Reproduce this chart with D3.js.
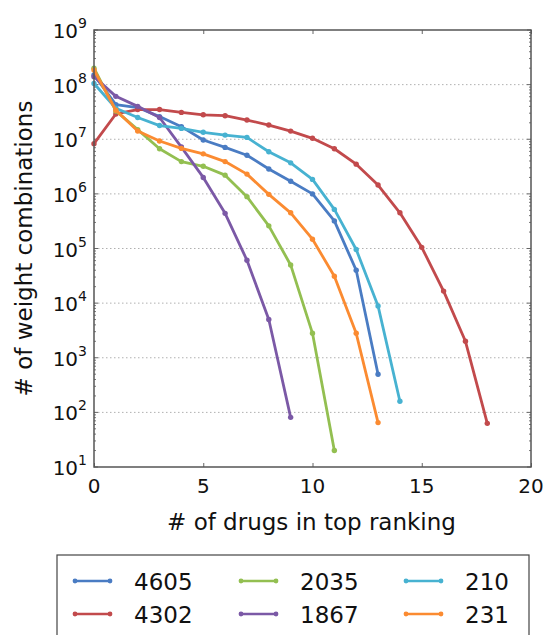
<!DOCTYPE html>
<html>
<head>
<meta charset="utf-8">
<script src="https://cdn.jsdelivr.net/npm/d3@7"></script>
<style>
  html, body { margin: 0; padding: 0; background: #fff; }
  svg { display: block; font-family: "DejaVu Sans", Verdana, sans-serif; }
</style>
</head>
<body>
<svg id="chart" width="545" height="635"></svg>
<script>
// Number of weight combinations per count of drugs in the top ranking
const drugCounts = d3.range(0, 19);
const seriesNames = ["4605", "4302", "2035", "1867", "210", "231"];
const seriesColors = ["#4a7cc3", "#c24a4c", "#93bf51", "#7b59a6", "#47b2d1", "#fb8b31"];

const s4605 = [1.5e8, 4.3e7, 3.8e7, 2.6e7, 1.7e7, 9.7e6, 7.1e6, 5.1e6, 2.85e6, 1.7e6, 1.0e6, 3.2e5, 4.0e4, 500];
const s4302 = [8.3e6, 2.9e7, 3.5e7, 3.5e7, 3.1e7, 2.8e7, 2.7e7, 2.25e7, 1.82e7, 1.41e7, 1.04e7, 6.7e6, 3.5e6, 1.45e6, 4.5e5, 1.05e5, 1.66e4, 2.0e3, 63];
const s2035 = [2.0e8, 3.3e7, 1.5e7, 6.7e6, 3.9e6, 3.2e6, 2.2e6, 8.9e5, 2.6e5, 5.0e4, 2.8e3, 20];
const s1867 = [1.4e8, 6.1e7, 4.0e7, 2.5e7, 7.2e6, 2.0e6, 4.4e5, 6.1e4, 5.0e3, 81];
const s210 = [1.05e8, 3.7e7, 2.5e7, 1.78e7, 1.58e7, 1.34e7, 1.19e7, 1.08e7, 5.9e6, 3.7e6, 1.84e6, 5.2e5, 9.6e4, 8.9e3, 160];
const s231 = [1.85e8, 3.4e7, 1.42e7, 9.3e6, 6.8e6, 5.4e6, 3.9e6, 2.3e6, 9.8e5, 4.5e5, 1.48e5, 3.1e4, 2.8e3, 65];

const seriesValues = [s4605, s4302, s2035, s1867, s210, s231];

const xTicks = [0, 5, 10, 15, 20];
const yExponents = [1, 2, 3, 4, 5, 6, 7, 8, 9];

const xLabel = "# of drugs in top ranking";
const yLabel = "# of weight combinations";

const svg = d3.select("#chart");
const plot = { left: 94, right: 531, top: 30, bottom: 467 };

const x = d3.scaleLinear().domain([0, 20]).range([plot.left, plot.right]);
const y = d3.scaleLog().domain([1e1, 1e9]).range([plot.bottom, plot.top]);

// dotted horizontal grid at each decade
svg.append("g")
  .selectAll("line")
  .data(yExponents.slice(1, -1))
  .join("line")
  .attr("x1", plot.left).attr("x2", plot.right)
  .attr("y1", d => y(Math.pow(10, d))).attr("y2", d => y(Math.pow(10, d)))
  .attr("stroke", "#b0b0b0")
  .attr("stroke-width", 1)
  .attr("stroke-dasharray", "1.5,2.5");

// inward ticks on all four sides
const xAxisBottom = d3.axisBottom(x).tickValues(xTicks).tickSize(-4).tickFormat("");
const xAxisTop = d3.axisTop(x).tickValues(xTicks).tickSize(-4).tickFormat("");
svg.append("g").attr("transform", `translate(0,${plot.bottom})`).call(xAxisBottom)
  .call(g => g.select(".domain").remove())
  .selectAll("line").attr("stroke", "#666");
svg.append("g").attr("transform", `translate(0,${plot.top})`).call(xAxisTop)
  .call(g => g.select(".domain").remove())
  .selectAll("line").attr("stroke", "#666");

const minorVals = [];
for (let e = 1; e < 9; e++) for (let m = 2; m <= 9; m++) minorVals.push(m * Math.pow(10, e));
const majorVals = yExponents.map(e => Math.pow(10, e));

[[plot.left, 1], [plot.right, -1]].forEach(([x0, dir]) => {
  const g = svg.append("g");
  g.selectAll("line.minor").data(minorVals).join("line").attr("class", "minor")
    .attr("x1", x0).attr("x2", x0 + dir * 2)
    .attr("y1", d => y(d)).attr("y2", d => y(d))
    .attr("stroke", "#777").attr("stroke-width", 1);
  g.selectAll("line.major").data(majorVals).join("line").attr("class", "major")
    .attr("x1", x0).attr("x2", x0 + dir * 4)
    .attr("y1", d => y(d)).attr("y2", d => y(d))
    .attr("stroke", "#666").attr("stroke-width", 1);
});

// tick labels
svg.append("g").selectAll("text").data(xTicks).join("text")
  .attr("x", d => x(d)).attr("y", 493)
  .attr("text-anchor", "middle")
  .attr("font-size", 20).attr("fill", "#111")
  .text(d => d);

const yl = svg.append("g").selectAll("text").data(yExponents).join("text")
  .attr("x", 87).attr("y", d => y(Math.pow(10, d)) + 8)
  .attr("text-anchor", "end")
  .attr("font-size", 20).attr("fill", "#111");
yl.append("tspan").text("10");
yl.append("tspan").attr("font-size", 14).attr("dy", -10).text(d => d);

// series lines and point markers
const line = d3.line().x((d, i) => x(drugCounts[i])).y(d => y(d));
seriesValues.forEach((vals, k) => {
  const g = svg.append("g");
  g.append("path").datum(vals)
    .attr("d", line)
    .attr("fill", "none")
    .attr("stroke", seriesColors[k])
    .attr("stroke-width", 2.8)
    .attr("stroke-linejoin", "round");
  g.selectAll("circle").data(vals).join("circle")
    .attr("cx", (d, i) => x(drugCounts[i])).attr("cy", d => y(d))
    .attr("r", 2.7).attr("fill", seriesColors[k]);
});

// frame
svg.append("rect")
  .attr("x", plot.left).attr("y", plot.top)
  .attr("width", plot.right - plot.left).attr("height", plot.bottom - plot.top)
  .attr("fill", "none").attr("stroke", "#555").attr("stroke-width", 1.5);

// axis titles
svg.append("text")
  .attr("x", (plot.left + plot.right) / 2 - 1).attr("y", 530)
  .attr("text-anchor", "middle").attr("font-size", 23).attr("fill", "#111")
  .text(xLabel);
svg.append("text")
  .attr("transform", `translate(32,${(plot.top + plot.bottom) / 2}) rotate(-90)`)
  .attr("text-anchor", "middle").attr("font-size", 23).attr("fill", "#111")
  .text(yLabel);

// legend: three columns, two rows, filled column by column
svg.append("rect")
  .attr("x", 57).attr("y", 555).attr("width", 472).attr("height", 100)
  .attr("fill", "#fff").attr("stroke", "#444").attr("stroke-width", 1.2);
const colX = [75, 241, 406];
const rowY = [581, 614];
seriesNames.forEach((name, k) => {
  const cx = colX[Math.floor(k / 2)];
  const cy = rowY[k % 2];
  const g = svg.append("g");
  g.append("line").attr("x1", cx).attr("x2", cx + 35).attr("y1", cy).attr("y2", cy)
    .attr("stroke", seriesColors[k]).attr("stroke-width", 2.6);
  g.selectAll("circle").data([cx, cx + 35]).join("circle")
    .attr("cx", d => d).attr("cy", cy).attr("r", 2.4).attr("fill", seriesColors[k]);
  g.append("text").attr("x", cx + 59).attr("y", cy + 8.5)
    .attr("font-size", 23).attr("fill", "#111").text(name);
});
</script>
</body>
</html>
